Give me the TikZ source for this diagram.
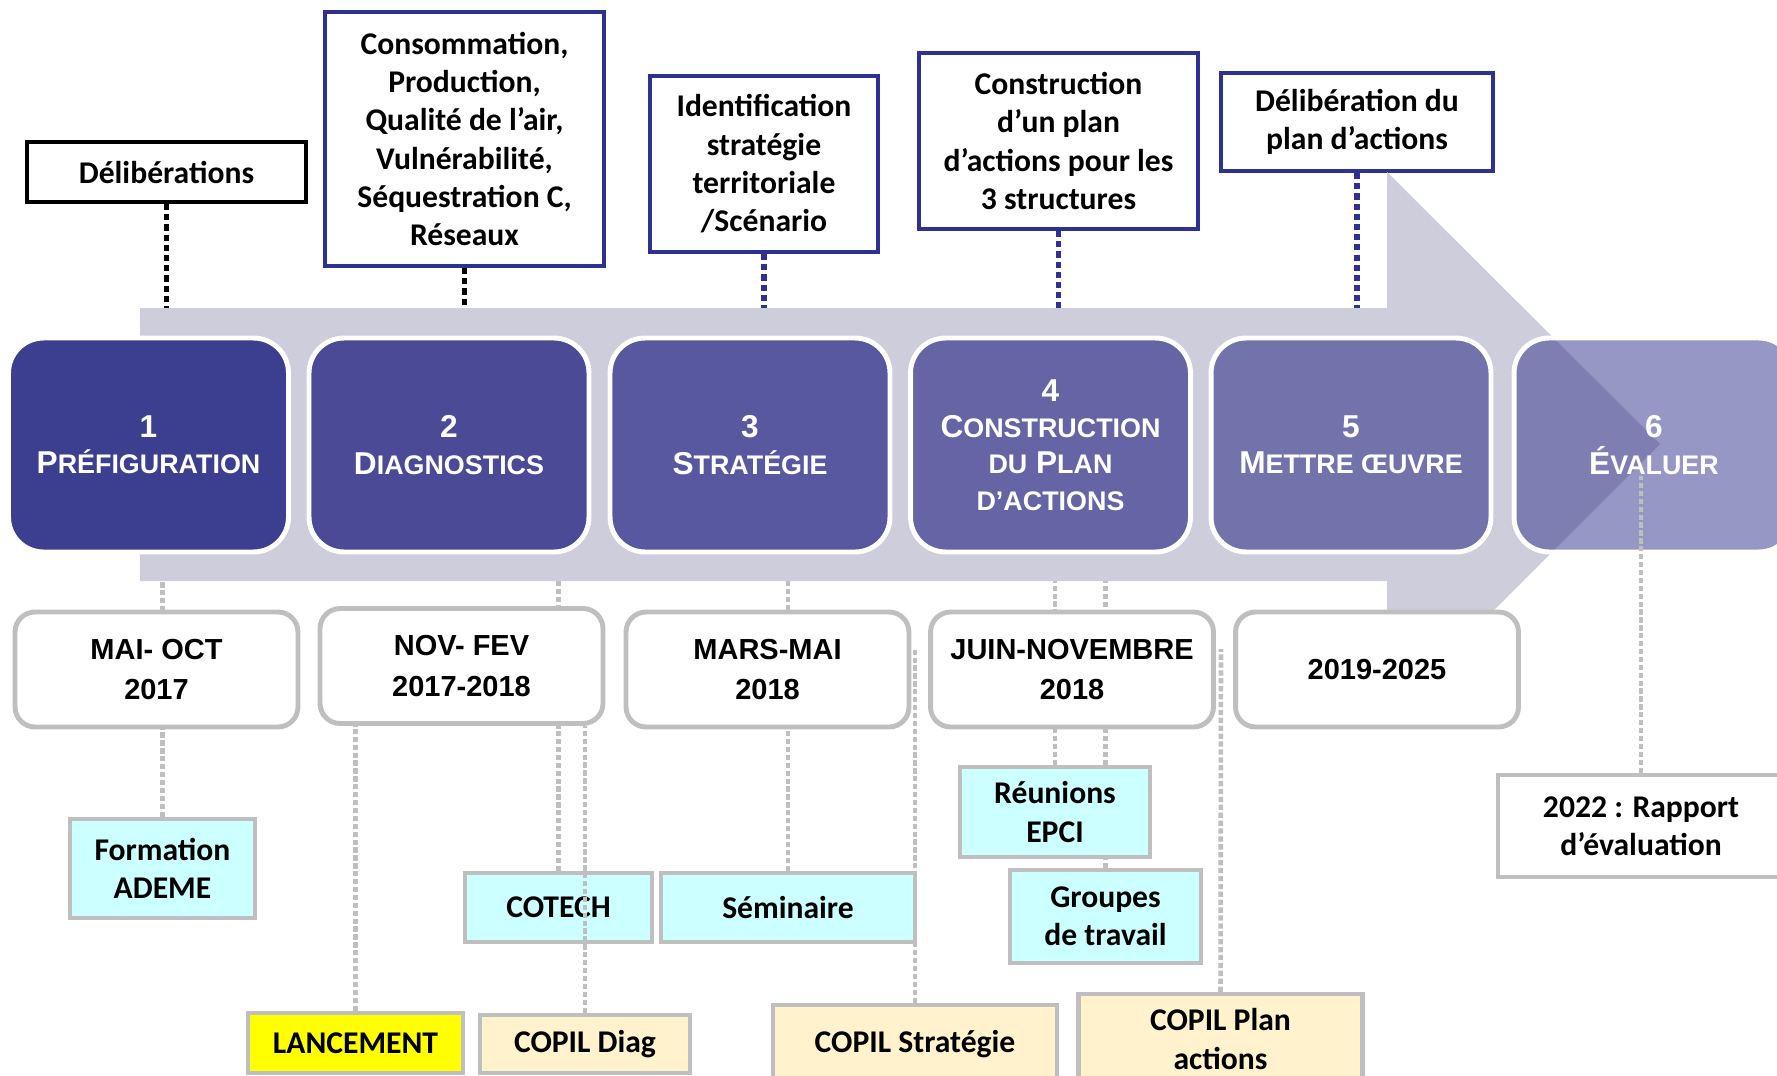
\documentclass[tikz,border=0pt]{standalone}
\usepackage{fontspec}
\setmainfont{Carlito}
\newfontfamily\arialf{Liberation Sans}
\usetikzlibrary{backgrounds}

\definecolor{navy}{RGB}{46,49,146}
\definecolor{fleche}{RGB}{205,205,219}
\definecolor{bord}{RGB}{191,191,191}
\definecolor{cyanpale}{RGB}{204,255,255}
\definecolor{beige}{RGB}{255,242,204}
\definecolor{jaune}{RGB}{255,255,0}
\definecolor{ph1}{RGB}{60,62,143}
\definecolor{ph2}{RGB}{74,74,150}
\definecolor{ph3}{RGB}{88,88,160}
\definecolor{ph4}{RGB}{101,101,166}
\definecolor{ph5}{RGB}{115,115,171}
\definecolor{ph6}{RGB}{55,55,143}

% petites capitales simulees
\newcommand\petit[1]{{\fontsize{15.3}{20.7}\selectfont #1}}

\begin{document}
\begin{tikzpicture}[x=0.02cm, y=-0.02cm,
    haut/.style={draw=navy, line width=2.3pt, fill=white, align=center, inner sep=2pt,
      font=\bfseries\fontsize{18}{21.8}\selectfont},
    phase/.style={draw=white, line width=2.8pt, rounded corners=0.7cm, minimum width=5.6cm,
      minimum height=4.28cm, text=white, align=center, font=\arialf\bfseries\fontsize{18}{20.7}\selectfont},
    date/.style={draw=bord, line width=2.8pt, fill=white, rounded corners=0.4cm, minimum width=5.66cm,
      minimum height=2.3cm, align=center, font=\arialf\bfseries\fontsize{16.5}{23.2}\selectfont},
    etape/.style={draw=bord, line width=2.5pt, align=center, inner sep=2pt,
      font=\bfseries\fontsize{18}{21.8}\selectfont},
    lien/.style={black, line width=3pt, dash pattern=on 3.5pt off 2.3pt},
    lienb/.style={lien, navy},
    fil/.style={bord, line width=2.6pt, dash pattern=on 3pt off 1.5pt}]
  \path[use as bounding box, clip] (0,0) rectangle (1777,1075);
  \coordinate (fhaut) at (0,308);
  \coordinate (fbas) at (0,581);

  % boites du haut
  \node[haut, draw=black, minimum width=5.58cm, minimum height=1.2cm] (delib) at (166.5,172) {Délibérations};
  \node[haut, minimum width=5.58cm, minimum height=5.08cm] (diag) at (464.5,139)
    {Consommation,\\Production,\\Qualité de l’air,\\Vulnérabilité,\\Séquestration C,\\Réseaux};
  \node[haut, minimum width=4.56cm, minimum height=3.52cm] (strat) at (764,164)
    {Identification\\stratégie\\territoriale\\/Scénario};
  \node[haut, minimum width=5.58cm, minimum height=3.52cm] (plan) at (1058.5,141)
    {Construction\\d’un plan\\d’actions pour les\\3 structures};
  \node[haut, minimum width=5.44cm, minimum height=1.96cm] (vote) at (1357,122) {Délibération du\\plan d’actions};
  \draw[lien] (delib.south) -- (delib.south |- fhaut);
  \draw[lien] (diag.south) -- (diag.south |- fhaut);
  \foreach \n in {strat, plan, vote}
    \draw[lienb] (\n.south) -- (\n.south |- fhaut);

  % grande fleche
  \fill[fleche] (140,308) -- (1387,308) -- (1387,172) -- (1660,444) -- (1387,717) -- (1387,581) -- (140,581) -- cycle;

  % phases
  \foreach \i/\x/\txt in {1/148.5/{1\\P\petit{RÉFIGURATION}}, 2/449/{2\\D\petit{IAGNOSTICS}},
      3/750/{3\\S\petit{TRATÉGIE}}, 4/1050.5/{4\\C\petit{ONSTRUCTION}\\\petit{DU} P\petit{LAN}\\\petit{D’ACTIONS}},
      5/1351/{5\\M\petit{ETTRE ŒUVRE}}}
    \node[phase, fill=ph\i] (p\i) at (\x,445) {\txt};
  \node[phase, fill=ph6, fill opacity=0.52, text opacity=1] (p6) at (1654,445) {6\\É\petit{VALUER}};

  % dates
  \foreach \i/\x/\y/\txt in {1/156.5/669.5/{MAI- OCT\\2017}, 2/461.5/666/{NOV- FEV\\2017-2018},
      3/767.5/669.5/{MARS-MAI\\2018}, 4/1072/669.5/{JUIN-NOVEMBRE\\2018}, 5/1377/669.5/{2019-2025}}
    \node[date] (d\i) at (\x,\y) {\txt};

  % boites du bas
  \node[etape, fill=cyanpale, minimum width=3.7cm, minimum height=1.98cm] (form) at (162.5,868.5) {Formation\\ADEME};
  \node[etape, fill=cyanpale, minimum width=3.74cm, minimum height=1.38cm] (cotech) at (558.5,907.5) {COTECH};
  \node[etape, fill=cyanpale, minimum width=5.08cm, minimum height=1.38cm] (semi) at (788,907.5) {Séminaire};
  \node[etape, fill=cyanpale, minimum width=3.8cm, minimum height=1.8cm] (reun) at (1055,812) {Réunions\\EPCI};
  \node[etape, fill=cyanpale, minimum width=3.82cm, minimum height=1.86cm] (grp) at (1105.5,916.5) {Groupes\\de travail};
  \node[etape, fill=jaune, minimum width=4.3cm, minimum height=1.2cm] (lanc) at (355.5,1043) {LANCEMENT};
  \node[etape, fill=beige, minimum width=4.2cm, minimum height=1.16cm] (copd) at (585,1044) {COPIL Diag};
  \node[etape, fill=beige, minimum width=5.68cm, minimum height=1.56cm] (copst) at (915,1044) {COPIL Stratégie};
  \node[etape, fill=beige, minimum width=5.68cm, minimum height=1.8cm] (copp) at (1220.5,1039) {COPIL Plan\\actions};
  \node[etape, fill=white, minimum width=5.72cm, minimum height=2.04cm] (rapp) at (1641,826) {2022 : Rapport\\d’évaluation};

  % liens gris
  \begin{pgfonlayer}{background}
    \foreach \n in {form, cotech, semi, reun, grp}
      \draw[fil] (\n.north) -- (\n.north |- fbas);
  \end{pgfonlayer}
  \coordinate (fs) at (915,649);
  \coordinate (fp) at (1221,649);
  \coordinate (ev) at (1641,476);
  \draw[fil] (lanc.north) -- (lanc.north |- d2.south);
  \draw[fil] (copd.north) -- (copd.north |- d2.south);
  \draw[fil] (copst.north) -- (fs);
  \draw[fil] (copp.north) -- (fp);
  \draw[fil] (rapp.north) -- (ev);
\end{tikzpicture}
\end{document}
